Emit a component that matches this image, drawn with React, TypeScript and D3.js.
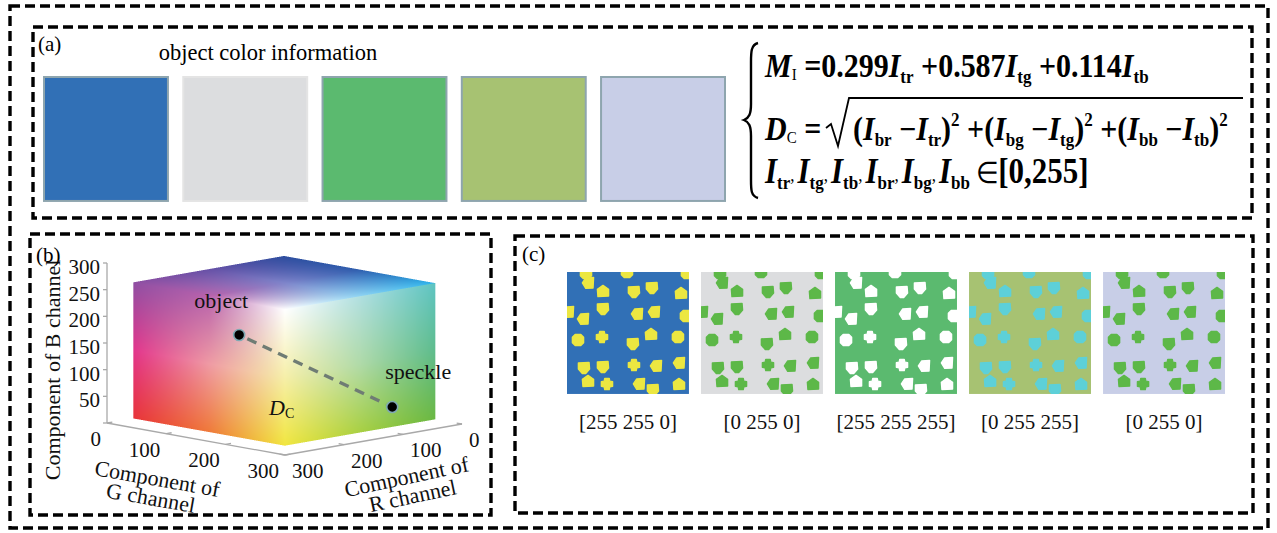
import React, { useMemo } from 'react';
import * as d3 from 'd3';

const W = 1277;
const H = 533;

// (a) object colours
const objectColors = ['#3170b6', '#dcdddf', '#5bba6f', '#a7c272', '#c8cee7'];
// (c) speckle colour chosen for each object, as [R G B]
const speckleValues: [number, number, number][] = [
  [255, 255, 0],
  [0, 255, 0],
  [255, 255, 255],
  [0, 255, 255],
  [0, 255, 0],
];
// (b) axis ticks
const bTicks = [50, 100, 150, 200, 250, 300];
const gTicks = [0, 100, 200, 300];
const rTicks = [0, 100, 200, 300];
// (b) the two colours compared in RGB space, as [R, G, B]
const objectPoint: [number, number, number] = [255, 178, 192];
const specklePoint: [number, number, number] = [73, 255, 37];
// speckle pattern: [x, y, shape] in pattern units (0..122)
const speckles: [number, number, number][] = [
  [19, 1, 2], [60, 0, 2], [120, 1, 2],
  [21, 11, 1], [36, 19, 3], [67, 20, 0], [85, 16, 0], [114, 21, 3],
  [1, 40, 1], [36, 37, 0], [16, 47, 1], [70, 42, 1], [87, 40, 1], [119, 44, 2],
  [11, 68, 2], [35, 65, 4], [84, 62, 3], [111, 65, 2], [66, 72, 0],
  [17, 96, 0], [36, 95, 0], [67, 93, 4], [89, 94, 1], [112, 91, 1],
  [21, 109, 3], [40, 112, 4], [72, 112, 1], [86, 118, 0], [112, 112, 3],
];

const serif = '"Liberation Serif", "Times New Roman", serif';

// speckle outlines (unit radius)
const shapeTemplates: [number, number][][] = [
  [[-1, -0.9], [0.9, -1], [1, 0.2], [0.3, 1], [-0.3, 1], [-1, 0.2]],
  [[-1, 0], [-0.4, -0.9], [1, -1], [0.9, 0.9], [-0.4, 0.95]],
  [[-0.5, -1], [0.5, -1], [1, -0.5], [1, 0.5], [0.5, 1], [-0.5, 1], [-1, 0.5], [-1, -0.5]],
  [[0, -1], [1, -0.3], [1, 0.9], [-0.9, 1], [-1, -0.3]],
  [[-0.4, -1], [0.4, -1], [0.5, -0.5], [1, -0.4], [1, 0.4], [0.5, 0.5], [0.4, 1], [-0.4, 1], [-0.5, 0.5], [-1, 0.4], [-1, -0.4], [-0.5, -0.5]],
];

// ---- 3D projection of the RGB space for panel (b) ----
const AX = 300;
const rX = d3.scaleLinear().domain([0, AX]).range([0, -177]);
const rY = d3.scaleLinear().domain([0, AX]).range([0, 31]);
const gX = d3.scaleLinear().domain([0, AX]).range([0, 178]);
const gY = d3.scaleLinear().domain([0, AX]).range([0, 32]);
const bY = d3.scaleLinear().domain([0, AX]).range([0, -160]);
const O3 = [284, 392];
function project(r: number, g: number, b: number): [number, number] {
  return [O3[0] + rX(r) + gX(g), O3[1] + rY(r) + gY(g) + bY(b)];
}

// visible faces of the colour cube (origin corner, u edge, v edge, colour grid rows v=0..1)
const C = 255;
const cubeFaces = [
  {
    origin: [C, 0, 0], u: [0, C, 0], v: [0, 0, C],
    grid: [
      ['#e8343a', '#ef7a3a', '#f1e640'],
      ['#e2358c', '#ef9aa4', '#f6efa8'],
      ['#8f4fa3', '#b862ac', '#ffffff'],
    ],
  },
  {
    origin: [C, C, 0], u: [-C, 0, 0], v: [0, 0, C],
    grid: [
      ['#f1e640', '#a9d043', '#6ab843'],
      ['#f6efa8', '#b0daa8', '#5ebc8c'],
      ['#ffffff', '#b0dfe0', '#5ec4c2'],
    ],
  },
  {
    origin: [C, 0, C], u: [0, C, 0], v: [-C, 0, 0],
    grid: [
      ['#8f4fa3', '#b862ac', '#ffffff'],
      ['#6650a6', '#7e84ca', '#90d4f2'],
      ['#2d4e9f', '#2f5eae', '#2eb4ec'],
    ],
  },
];

function sampleGrid(grid: number[][][], u: number, v: number) {
  const rows = grid.length - 1;
  const cols = grid[0].length - 1;
  const fv = v * rows, fu = u * cols;
  const i = Math.min(Math.floor(fv), rows - 1), j = Math.min(Math.floor(fu), cols - 1);
  const tv = fv - i, tu = fu - j;
  const out = [0, 0, 0];
  for (let k = 0; k < 3; k++) {
    const a = grid[i][j][k] * (1 - tu) + grid[i][j + 1][k] * tu;
    const b = grid[i + 1][j][k] * (1 - tu) + grid[i + 1][j + 1][k] * tu;
    out[k] = a * (1 - tv) + b * tv;
  }
  return out;
}

function renderCube(x0: number, y0: number, w: number, h: number): string {
  const canvas = document.createElement('canvas');
  canvas.width = w;
  canvas.height = h;
  const ctx = canvas.getContext('2d');
  if (!ctx) return '';
  const img = ctx.createImageData(w, h);
  const faces = cubeFaces.map((f) => {
    const p0 = project(f.origin[0], f.origin[1], f.origin[2]);
    const pu = project(f.origin[0] + f.u[0], f.origin[1] + f.u[1], f.origin[2] + f.u[2]);
    const pv = project(f.origin[0] + f.v[0], f.origin[1] + f.v[1], f.origin[2] + f.v[2]);
    const a = [pu[0] - p0[0], pu[1] - p0[1]];
    const b = [pv[0] - p0[0], pv[1] - p0[1]];
    const det = a[0] * b[1] - a[1] * b[0];
    const grid = f.grid.map((row) => row.map((c) => { const k = d3.rgb(c); return [k.r, k.g, k.b]; }));
    return { p0, a, b, det, grid };
  });
  const S = 3;
  for (let py = 0; py < h; py++) {
    for (let px = 0; px < w; px++) {
      let r = 0, g = 0, bl = 0, cov = 0;
      for (let sy = 0; sy < S; sy++) {
        for (let sx = 0; sx < S; sx++) {
          const X = x0 + px + (sx + 0.5) / S;
          const Y = y0 + py + (sy + 0.5) / S;
          for (const f of faces) {
            const dx = X - f.p0[0], dy = Y - f.p0[1];
            const u = (dx * f.b[1] - dy * f.b[0]) / f.det;
            const v = (f.a[0] * dy - f.a[1] * dx) / f.det;
            if (u >= -0.001 && u <= 1.001 && v >= -0.001 && v <= 1.001) {
              const c = sampleGrid(f.grid, Math.min(1, Math.max(0, u)), Math.min(1, Math.max(0, v)));
              r += c[0]; g += c[1]; bl += c[2]; cov++;
              break;
            }
          }
        }
      }
      const i = (py * w + px) * 4;
      if (cov > 0) {
        img.data[i] = r / cov;
        img.data[i + 1] = g / cov;
        img.data[i + 2] = bl / cov;
        img.data[i + 3] = (255 * cov) / (S * S);
      }
    }
  }
  ctx.putImageData(img, 0, 0);
  return canvas.toDataURL();
}

// printed appearance of a nominal RGB colour (ink mixing matrix, full white kept white)
const inkMatrix = [
  [143, 93, 0],
  [47, 184, 24],
  [-7, 72, 144],
];
function inkOf(v: [number, number, number]) {
  const n = v.map((x) => x / 255);
  const white = n[0] * n[1] * n[2];
  const ch = inkMatrix.map((row) => {
    const m = row[0] * n[0] + row[1] * n[1] + row[2] * n[2];
    const mixed = m * (1 - white) + 255 * white;
    return Math.max(0, Math.min(255, Math.round(mixed)));
  });
  return d3.rgb(ch[0], ch[1], ch[2]).formatHex();
}

function DashedBox({ x, y, w, h }: { x: number; y: number; w: number; h: number }) {
  return (
    <rect x={x} y={y} width={w} height={h} fill="none" stroke="#000" strokeWidth={3.4} strokeDasharray="10 5" />
  );
}

function Formula() {
  const fs = 30;
  const sub = 17;
  const subI = 15;
  const sy = (y: number, k = 1.1) => `translate(765,${y}) scale(1,${k})`;
  const comma = (key: string) => (
    <tspan key={key} fontSize={sub} fontWeight="normal" dy={-7}>,</tspan>
  );
  return (
    <g fontFamily={serif} fontWeight="bold" fill="#000">
      {/* brace */}
      <path
        d="M758,43 C751,45 751,52 751,62 L751,104 C751,114 749,118 744,120 C749,122 751,126 751,136 L751,180 C751,190 751,196 758,198"
        fill="none" stroke="#000" strokeWidth={2.4}
      />
      <g transform={sy(77)}>
        <text x={0} y={0} fontSize={fs}>
          <tspan fontStyle="italic">M</tspan>
          <tspan fontSize={subI} fontWeight="normal" dy={3}>I</tspan>
          <tspan dy={-3}> =0.299</tspan>
          <tspan fontStyle="italic">I</tspan>
          <tspan fontSize={sub} dy={5}>tr</tspan>
          <tspan dy={-5}> +0.587</tspan>
          <tspan fontStyle="italic">I</tspan>
          <tspan fontSize={sub} dy={5}>tg</tspan>
          <tspan dy={-5}> +0.114</tspan>
          <tspan fontStyle="italic">I</tspan>
          <tspan fontSize={sub} dy={5}>tb</tspan>
        </text>
      </g>
      <g transform={sy(140)}>
        <text x={0} y={0} fontSize={fs}>
          <tspan fontStyle="italic">D</tspan>
          <tspan fontSize={subI} fontWeight="normal" dy={3}>C</tspan>
          <tspan dy={-3}> =</tspan>
        </text>
        <text x={88} y={0} fontSize={fs}>
          <tspan>(</tspan>
          <tspan fontStyle="italic">I</tspan>
          <tspan fontSize={sub} dy={5}>br</tspan>
          <tspan dy={-5}> −</tspan>
          <tspan fontStyle="italic">I</tspan>
          <tspan fontSize={sub} dy={5}>tr</tspan>
          <tspan dy={-5}>)</tspan>
          <tspan fontSize={sub} dy={-13}>2</tspan>
          <tspan dy={13}> +(</tspan>
          <tspan fontStyle="italic">I</tspan>
          <tspan fontSize={sub} dy={5}>bg</tspan>
          <tspan dy={-5}> −</tspan>
          <tspan fontStyle="italic">I</tspan>
          <tspan fontSize={sub} dy={5}>tg</tspan>
          <tspan dy={-5}>)</tspan>
          <tspan fontSize={sub} dy={-13}>2</tspan>
          <tspan dy={13}> +(</tspan>
          <tspan fontStyle="italic">I</tspan>
          <tspan fontSize={sub} dy={5}>bb</tspan>
          <tspan dy={-5}> −</tspan>
          <tspan fontStyle="italic">I</tspan>
          <tspan fontSize={sub} dy={5}>tb</tspan>
          <tspan dy={-5}>)</tspan>
          <tspan fontSize={sub} dy={-13}>2</tspan>
        </text>
      </g>
      <path d="M826,128 L831,124 L838,146 L849,98 L1243,98" fill="none" stroke="#000" strokeWidth={1.8} strokeLinejoin="miter" />
      <g transform={sy(183, 1.15)}>
        <text x={0} y={0} fontSize={fs + 1}>
          <tspan fontStyle="italic">I</tspan>
          <tspan fontSize={sub} dy={5}>tr</tspan>
          {comma('c1')}
          <tspan fontStyle="italic" dx={3} dy={2}>I</tspan>
          <tspan fontSize={sub} dy={5}>tg</tspan>
          {comma('c2')}
          <tspan fontStyle="italic" dx={3} dy={2}>I</tspan>
          <tspan fontSize={sub} dy={5}>tb</tspan>
          {comma('c3')}
          <tspan fontStyle="italic" dx={3} dy={2}>I</tspan>
          <tspan fontSize={sub} dy={5}>br</tspan>
          {comma('c4')}
          <tspan fontStyle="italic" dx={3} dy={2}>I</tspan>
          <tspan fontSize={sub} dy={5}>bg</tspan>
          {comma('c5')}
          <tspan fontStyle="italic" dx={3} dy={2}>I</tspan>
          <tspan fontSize={sub} dy={5}>bb</tspan>
          <tspan dy={-5} dx={6} fontWeight="normal" fontSize={26}>∈</tspan>
          <tspan>[0,255]</tspan>
        </text>
      </g>
    </g>
  );
}

function CubePanel() {
  const box = { x: 128, y: 250, w: 314, h: 202 };
  const href = useMemo(() => renderCube(box.x, box.y, box.w, box.h), []);
  const origin = project(AX, 0, 0);
  const bTop = project(AX, 0, AX);
  const gEnd = project(AX, AX, 0);
  const rStart = project(0, AX, 0);
  const axisStroke = '#a9a9a9';
  const obj = project(...objectPoint);
  const spk = project(...specklePoint);
  const dirX = spk[0] - obj[0], dirY = spk[1] - obj[1];
  const len = Math.hypot(dirX, dirY);
  const ux = dirX / len, uy = dirY / len;
  return (
    <g>
      <image href={href} x={box.x} y={box.y} width={box.w} height={box.h} />
      {/* axes */}
      <g stroke={axisStroke} strokeWidth={1.3} fill="none">
        <line x1={origin[0]} y1={origin[1]} x2={bTop[0]} y2={bTop[1]} />
        <line x1={origin[0]} y1={origin[1]} x2={gEnd[0]} y2={gEnd[1]} />
        <line x1={rStart[0]} y1={rStart[1]} x2={gEnd[0]} y2={gEnd[1]} />
        {[0, ...bTicks].map((t) => {
          const p = project(AX, 0, t);
          return <line key={'bt' + t} x1={p[0]} y1={p[1]} x2={p[0] - 4} y2={p[1]} />;
        })}
        {gTicks.map((t) => {
          const p = project(AX, t, 0);
          const q = project(AX - 9, t, 0);
          return <line key={'gt' + t} x1={p[0]} y1={p[1]} x2={q[0]} y2={q[1]} />;
        })}
        {rTicks.map((t) => {
          const p = project(t, AX, 0);
          const q = project(t, AX - 9, 0);
          return <line key={'rt' + t} x1={p[0]} y1={p[1]} x2={q[0]} y2={q[1]} />;
        })}
      </g>
      <g fontFamily={serif} fontSize={21} fill="#111">
        {bTicks.map((t) => {
          const p = project(AX, 0, t);
          return (
            <text key={'bl' + t} x={p[0] - 7} y={p[1] + 11} textAnchor="end">{t}</text>
          );
        })}
        {gTicks.map((t) => {
          const p = project(AX, t, 0);
          return (
            <text key={'gl' + t} x={p[0] - 6} y={p[1] + 23} textAnchor="end">{t}</text>
          );
        })}
        {rTicks.map((t) => {
          const p = project(t, AX, 0);
          return (
            <text key={'rl' + t} x={p[0] + 7} y={p[1] + 23} textAnchor="start">{t}</text>
          );
        })}
      </g>
      <g fontFamily={serif} fontSize={22} fill="#111" textAnchor="middle">
        <text transform="translate(60,370) rotate(-90)">Component of B channel</text>
        <g transform="translate(156,486) rotate(10)">
          <text x={0} y={0}>Component of</text>
          <text x={-3} y={20}>G channel</text>
        </g>
        <g transform="translate(408,484) rotate(-12)">
          <text x={0} y={0}>Component of</text>
          <text x={2} y={20}>R channel</text>
        </g>
      </g>
      {/* colour difference between object and speckle */}
      <line
        x1={obj[0] + ux * 9} y1={obj[1] + uy * 9} x2={spk[0] - ux * 7} y2={spk[1] - uy * 7}
        stroke="#6f7c74" strokeWidth={3.4} strokeDasharray="10 7"
      />
      {[obj, spk].map((p, i) => (
        <circle key={'pt' + i} cx={p[0]} cy={p[1]} r={5.5} fill="#000" stroke="#7fa9b3" strokeWidth={1.6} />
      ))}
      <g fontFamily={serif} fontSize={22} fill="#111">
        <text x={obj[0] - 18} y={obj[1] - 27} textAnchor="middle">object</text>
        <text x={spk[0] + 26} y={spk[1] - 28} textAnchor="middle">speckle</text>
        <text x={269} y={415} fontStyle="italic">D<tspan fontStyle="normal" fontSize={14} dy={3}>C</tspan></text>
      </g>
    </g>
  );
}

export default function App() {
  const swatchX = d3.scaleBand<number>().domain(d3.range(objectColors.length)).range([44, 725]).paddingInner(0.11);
  const tileX = d3.scaleBand<number>().domain(d3.range(speckleValues.length)).range([567, 1225]).paddingInner(0.09);
  const tileSize = tileX.bandwidth();
  const pat = d3.scaleLinear().domain([0, 122]).range([0, tileSize]);
  const speckleR = 5.6;
  const outline = d3.line().curve(d3.curveLinearClosed);
  const tileY = 272;

  return (
    <svg width={W} height={H} style={{ position: 'absolute', left: 0, top: 0, background: '#fff' }}>
      <rect x={0} y={0} width={W} height={H} fill="#fff" />
      <defs>
        {speckleValues.map((_, i) => (
          <clipPath key={'cp' + i} id={`tile-clip-${i}`}>
            <rect x={tileX(i)} y={tileY} width={tileSize} height={tileSize} />
          </clipPath>
        ))}
      </defs>

      <DashedBox x={10} y={6} w={1258} h={522} />
      <DashedBox x={33} y={27} w={1219} h={191} />
      <DashedBox x={30} y={234} w={461} h={281} />
      <DashedBox x={515} y={236} w={738} h={277} />

      {/* (a) */}
      <text x={38} y={51} fontFamily={serif} fontSize={21}>(a)</text>
      <text x={268} y={60} fontFamily={serif} fontSize={22.5} textAnchor="middle">object color information</text>
      {objectColors.map((c, i) => (
        <rect
          key={'sw' + i}
          x={swatchX(i)} y={77} width={swatchX.bandwidth()} height={swatchX.bandwidth()}
          fill={c}
          stroke={d3.hsl(c).l > 0.86 ? '#e4e4e4' : '#8ea5ae'}
          strokeWidth={2}
        />
      ))}
      <Formula />

      {/* (b) */}
      <CubePanel />
      <text x={36} y={262} fontFamily={serif} fontSize={21}>(b)</text>

      {/* (c) */}
      <text x={522} y={261} fontFamily={serif} fontSize={21}>(c)</text>
      {speckleValues.map((v, i) => {
        const x0 = tileX(i) as number;
        const ink = inkOf(v);
        return (
          <g key={'tile' + i}>
            <rect x={x0} y={tileY} width={tileSize} height={tileSize} fill={objectColors[i]} />
            <g clipPath={`url(#tile-clip-${i})`} fill={ink} stroke={ink} strokeWidth={1.4} strokeLinejoin="round">
              {speckles.map(([sx, sy, s], k) => {
                const cx = x0 + pat(sx);
                const cy = tileY + pat(sy);
                const pts = shapeTemplates[s].map(([px, py]) => [cx + px * speckleR, cy + py * speckleR] as [number, number]);
                return <path key={k} d={outline(pts) || ''} />;
              })}
            </g>
            <text
              x={x0 + tileSize / 2} y={429}
              fontFamily={serif} fontSize={21} textAnchor="middle" fill="#111"
            >
              {`[${v.join(' ')}]`}
            </text>
          </g>
        );
      })}
    </svg>
  );
}
